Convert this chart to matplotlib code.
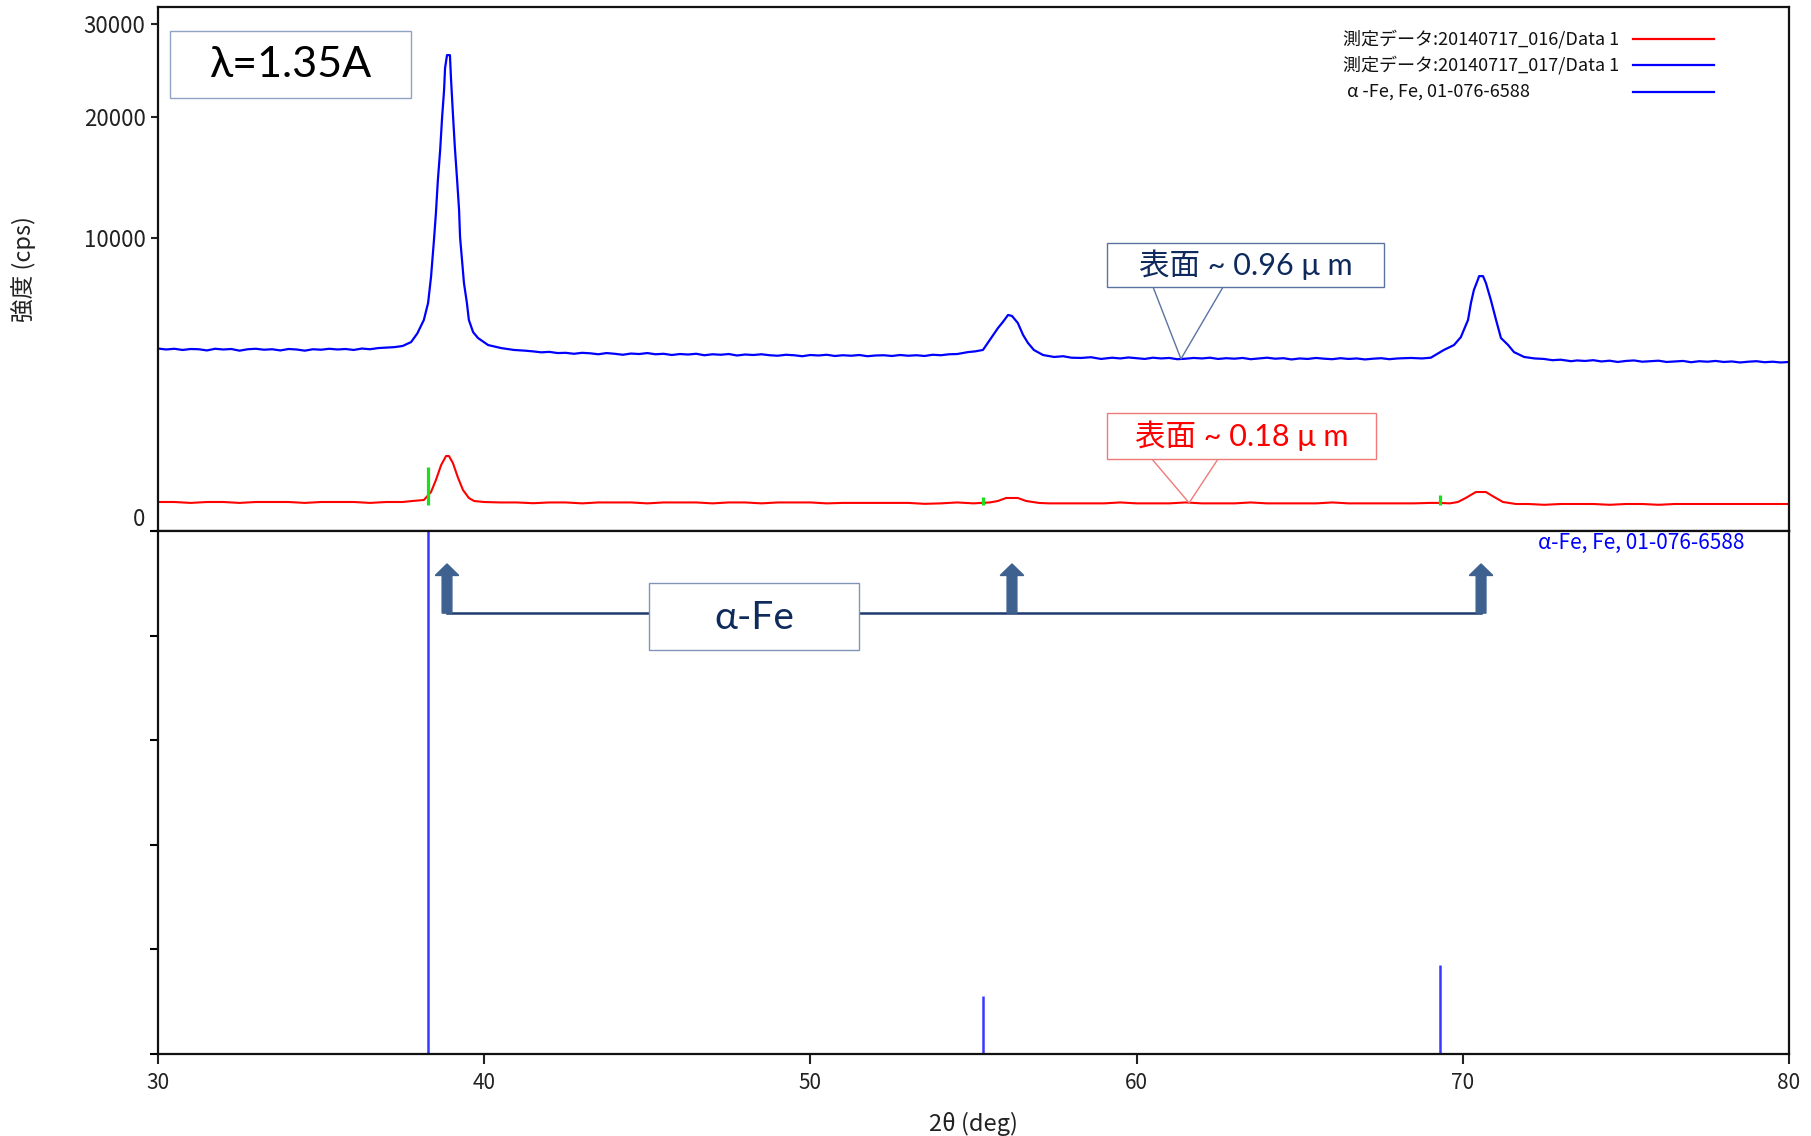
import numpy as np
import matplotlib.pyplot as plt
from matplotlib.patches import Rectangle, Polygon

plt.rcParams['font.family'] = ['Noto Sans CJK JP', 'DejaVu Sans']

# measured pattern 20140717_017 (blue), 2theta in deg, intensity in cps
blue_tth = [30.00, 30.25, 30.50, 30.75, 31.00, 31.25, 31.50, 31.75, 32.00, 32.25,
            32.50, 32.75, 33.00, 33.25, 33.50, 33.75, 34.00, 34.25, 34.50, 34.75,
            35.00, 35.25, 35.50, 35.75, 36.00, 36.25, 36.50, 36.75, 37.00, 37.25,
            37.50, 37.76, 37.95, 38.15, 38.28, 38.37, 38.46, 38.52, 38.58, 38.65,
            38.71, 38.77, 38.80, 38.86, 38.95, 38.98, 39.04, 39.10, 39.17, 39.23,
            39.26, 39.32, 39.38, 39.47, 39.53, 39.66, 39.81, 40.12, 40.52, 40.91,
            41.25, 41.50, 41.75, 42.00, 42.25, 42.50, 42.75, 43.00, 43.25, 43.50,
            43.75, 44.00, 44.25, 44.50, 44.75, 45.00, 45.25, 45.50, 45.75, 46.00,
            46.25, 46.50, 46.75, 47.00, 47.25, 47.50, 47.75, 48.00, 48.25, 48.50,
            48.75, 49.00, 49.25, 49.50, 49.75, 50.00, 50.25, 50.50, 50.75, 51.00,
            51.25, 51.50, 51.75, 52.00, 52.25, 52.50, 52.75, 53.00, 53.25, 53.50,
            53.75, 54.00, 54.25, 54.50, 54.83, 55.05, 55.29, 55.54, 55.75, 55.90,
            56.06, 56.18, 56.36, 56.52, 56.67, 56.85, 57.13, 57.47, 57.75, 58.00,
            58.30, 58.60, 58.91, 59.25, 59.50, 59.75, 60.00, 60.25, 60.50, 60.75,
            61.00, 61.25, 61.50, 61.75, 62.00, 62.25, 62.50, 62.75, 63.00, 63.25,
            63.50, 63.75, 64.00, 64.25, 64.50, 64.75, 65.00, 65.25, 65.50, 65.75,
            66.00, 66.25, 66.50, 66.75, 67.00, 67.25, 67.50, 67.75, 68.00, 68.41,
            68.75, 69.02, 69.42, 69.73, 69.94, 70.16, 70.25, 70.34, 70.47, 70.50,
            70.62, 70.71, 70.86, 71.02, 71.17, 71.39, 71.57, 71.88, 72.20, 72.49,
            72.75, 73.00, 73.32, 73.50, 73.75, 74.00, 74.25, 74.50, 74.75, 75.00,
            75.25, 75.50, 75.75, 76.00, 76.25, 76.50, 76.75, 77.00, 77.25, 77.50,
            77.75, 78.00, 78.25, 78.50, 78.75, 79.00, 79.25, 79.50, 79.75, 80.00]
blue_cps = [3880, 3840, 3870, 3820, 3860, 3850, 3800, 3870, 3840, 3860,
            3790, 3850, 3870, 3830, 3850, 3800, 3860, 3840, 3790, 3850,
            3830, 3870, 3840, 3860, 3820, 3880, 3850, 3900, 3920, 3940,
            3990, 4160, 4550, 5190, 6060, 7520, 9860, 11780, 14350, 16910,
            19960, 22650, 24970, 26390, 26390, 24010, 20350, 17180, 14350, 12000,
            10070, 8560, 7160, 6060, 5190, 4610, 4340, 4030, 3900, 3820,
            3790, 3760, 3720, 3740, 3690, 3700, 3660, 3700, 3680, 3640,
            3690, 3660, 3620, 3670, 3650, 3690, 3640, 3660, 3610, 3650,
            3630, 3660, 3600, 3640, 3620, 3650, 3590, 3630, 3610, 3640,
            3600, 3580, 3620, 3600, 3560, 3610, 3590, 3620, 3570, 3600,
            3580, 3610, 3560, 3590, 3600, 3570, 3610, 3580, 3600, 3570,
            3620, 3600, 3640, 3650, 3730, 3760, 3820, 4340, 4800, 5090,
            5440, 5390, 5040, 4480, 4120, 3820, 3610, 3530, 3560, 3500,
            3490, 3520, 3450, 3500, 3470, 3510, 3480, 3450, 3500, 3470,
            3490, 3440, 3460, 3490, 3470, 3500, 3450, 3480, 3460, 3490,
            3440, 3470, 3500, 3460, 3480, 3430, 3470, 3450, 3490, 3460,
            3440, 3480, 3450, 3470, 3430, 3460, 3480, 3440, 3470, 3490,
            3470, 3500, 3820, 4030, 4380, 5190, 6060, 6770, 7400, 7570,
            7570, 7160, 6220, 5190, 4340, 4030, 3730, 3530, 3470, 3450,
            3400, 3420, 3360, 3390, 3370, 3400, 3350, 3380, 3330, 3370,
            3390, 3340, 3360, 3380, 3330, 3350, 3370, 3320, 3360, 3340,
            3370, 3330, 3350, 3310, 3340, 3360, 3320, 3340, 3310, 3330]

# measured pattern 20140717_016 (red)
red_tth = [30.0, 30.5, 31.0, 31.5, 32.0, 32.5, 33.0, 33.5, 34.0, 34.5,
           35.0, 35.5, 36.0, 36.5, 37.0, 37.5, 37.8, 38.15, 38.37, 38.52,
           38.68, 38.83, 38.92, 39.04, 39.20, 39.35, 39.53, 39.69, 39.99, 40.5,
           41.0, 41.5, 42.0, 42.5, 43.0, 43.5, 44.0, 44.5, 45.0, 45.5,
           46.0, 46.5, 47.0, 47.5, 48.0, 48.5, 49.0, 49.5, 50.0, 50.5,
           51.0, 51.5, 52.0, 52.5, 53.0, 53.5, 54.0, 54.5, 55.0, 55.5,
           55.75, 56.0, 56.36, 56.61, 57.0, 57.3, 58.0, 58.5, 59.0, 59.5,
           60.0, 60.5, 61.0, 61.5, 62.0, 62.5, 63.0, 63.5, 64.0, 64.5,
           65.0, 65.5, 66.0, 66.5, 67.0, 67.5, 68.0, 68.5, 69.0, 69.3,
           69.6, 69.85, 70.09, 70.40, 70.71, 70.96, 71.23, 71.63, 72.0, 72.5,
           73.0, 73.5, 74.0, 74.5, 75.0, 75.5, 76.0, 76.5, 77.0, 77.5,
           78.0, 78.5, 79.0, 79.5, 80.0]
red_cps = [98, 98, 92, 98, 98, 92, 98, 98, 98, 92,
           98, 98, 98, 92, 98, 98, 105, 112, 177, 303,
           507, 655, 655, 539, 327, 196, 127, 105, 98, 95,
           95, 90, 95, 95, 89, 95, 95, 95, 89, 95,
           95, 95, 89, 95, 95, 89, 95, 95, 95, 89,
           92, 92, 92, 92, 92, 86, 89, 95, 89, 95,
           105, 127, 127, 105, 92, 89, 89, 89, 89, 95,
           89, 89, 89, 95, 89, 89, 89, 95, 89, 89,
           89, 89, 95, 89, 89, 89, 89, 89, 92, 92,
           89, 98, 127, 177, 177, 135, 98, 85, 85, 80,
           85, 85, 85, 80, 85, 85, 80, 85, 85, 85,
           85, 85, 85, 85, 85]

# reference card alpha-Fe 01-076-6588
ref_tth = [38.28, 55.29, 69.30]
ref_int = [100, 11, 17]
# peak markers on the measured pattern (cps)
mark_low = [80, 80, 80]
mark_high = [477, 135, 151]

legend_labels = ['測定データ:20140717_016/Data 1',
                 '測定データ:20140717_017/Data 1',
                 'α -Fe, Fe, 01-076-6588']
legend_colors = ['#ff0000', '#0000ff', '#0000ff']

fig = plt.figure(figsize=(18.11, 11.36), dpi=100)
ax = fig.add_axes([0.08724, 0.53257, 0.90061, 0.46127])
ax2 = fig.add_axes([0.08724, 0.07218, 0.90061, 0.46039], sharex=ax)

# upper panel: measured patterns on a square-root intensity scale
ax.set_yscale('function', functions=(np.sqrt, np.square))
ax.plot(blue_tth, blue_cps, color='#0000ff', lw=1.6, zorder=2)
ax.plot(red_tth, red_cps, color='#ff0000', lw=1.5, zorder=2)
ax.vlines(ref_tth, mark_low, mark_high, color='#19e019', lw=2.3, zorder=3)
ax.set_xlim(30, 80)
ax.set_ylim(0, 32000)
ax.set_yticks([0, 10000, 20000, 30000], labels=['0', '10000', '20000', '30000'])
ax.get_yticklabels()[0].set_verticalalignment('bottom')
ax.tick_params(axis='y', direction='out', length=5, width=1.5, labelsize=16,
               pad=4, colors='#222222')
ax.tick_params(axis='x', bottom=False, labelbottom=False)
ax.set_ylabel('強度 (cps)', fontsize=17, color='#222222')
ax.yaxis.set_label_coords(-0.075, 0.5)

# lower panel: reference stick pattern
ax2.vlines(ref_tth, 0, ref_int, color='#3838ff', lw=1.8)
ax2.set_ylim(0, 100)
ax2.set_yticks([0, 20, 40, 60, 80, 100])
ax2.tick_params(axis='y', direction='out', length=6, width=1.5, labelleft=False)
ax2.set_xticks([30, 40, 50, 60, 70, 80])
ax2.tick_params(axis='x', direction='out', length=7, width=1.5, labelsize=15,
                pad=6, colors='#222222')
ax2.set_xlabel('2θ (deg)', fontsize=17, color='#222222')
ax2.xaxis.set_label_coords(0.5, -0.11)

for a in (ax, ax2):
    for s in a.spines.values():
        s.set_linewidth(1.6)
        s.set_color('#111111')

# legend, text left and line keys on the right
for i, (lab, col) in enumerate(zip(legend_labels, legend_colors)):
    yy = 0.939 - i * 0.0505
    ax.text(0.7266 if i < 2 else 0.729, yy, lab, transform=ax.transAxes,
            fontsize=13, va='center', ha='left', color='#111111')
    ax.plot([0.9044, 0.954], [yy, yy], transform=ax.transAxes, color=col, lw=1.6)

# wavelength box
ax.add_patch(Rectangle((0.0074, 0.826), 0.1477, 0.128, transform=ax.transAxes,
                       fc='white', ec='#8fa4c5', lw=1.0, zorder=5))
ax.text(0.0813, 0.890, 'λ=1.35A', transform=ax.transAxes, fontsize=31,
        family=['Lato', 'DejaVu Sans'], ha='center', va='center', zorder=6)


def callout(axis, box, base, tip, text, ec, tc):
    x0, y0, x1, y1 = box
    tx, ty = axis.transAxes.inverted().transform(axis.transData.transform(tip))
    axis.add_patch(Polygon([(base[0], y0), (tx, ty), (base[1], y0)], closed=False,
                           transform=axis.transAxes, fc='white', ec=ec, lw=1.0,
                           zorder=5))
    axis.add_patch(Rectangle((x0, y0), x1 - x0, y1 - y0, transform=axis.transAxes,
                             fc='white', ec=ec, lw=1.0, zorder=5))
    axis.text((x0 + x1) / 2, (y0 + y1) / 2, text, transform=axis.transAxes,
              fontsize=22, family=['Lato', 'Noto Sans CJK JP'], color=tc,
              ha='center', va='center', zorder=6)


callout(ax, (0.5819, 0.4656, 0.7517, 0.5496), (0.6101, 0.6530), (61.36, 3450),
        '表面 ~ 0.96 μ m', '#5b73a3', '#0e2a5c')
callout(ax, (0.5819, 0.1374, 0.7468, 0.2252), (0.6094, 0.6499), (61.61, 92),
        '表面 ~ 0.18 μ m', '#f07a7a', '#ff0000')

# alpha-Fe peak arrows in the lower panel
peak_tth = [38.86, 56.18, 70.56]
ax2.plot([peak_tth[0], peak_tth[-1]], [84.3, 84.3], color='#1f3a6e', lw=1.8, zorder=3)
for x in peak_tth:
    ax2.arrow(x, 84.3, 0, 9.4, width=0.3, head_width=0.72, head_length=2.2,
              length_includes_head=True, fc='#3e6190', ec='#3e6190', zorder=4)
ax2.add_patch(Rectangle((0.3011, 0.772), 0.1289, 0.128, transform=ax2.transAxes,
                        fc='white', ec='#8094ba', lw=1.0, zorder=5))
ax2.text(0.3655, 0.834, 'α-Fe', transform=ax2.transAxes, fontsize=28,
         family=['Lato', 'DejaVu Sans'], color='#0f2b5b', ha='center', va='center',
         zorder=6)
ax2.text(0.973, 0.977, 'α-Fe, Fe, 01-076-6588', transform=ax2.transAxes,
         fontsize=15, color='#0000ff', ha='right', va='center')

fig.savefig('out.png', dpi=100)
